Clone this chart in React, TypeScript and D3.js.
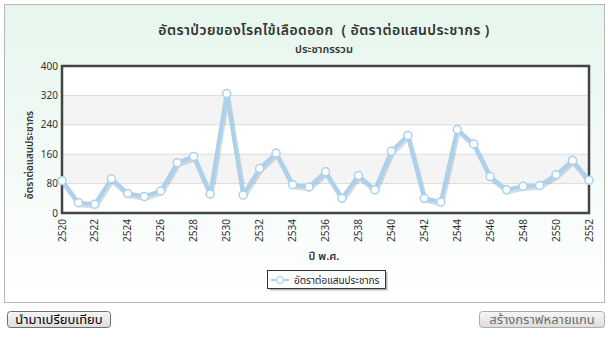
import React from "react";
import * as d3 from "d3";

const years: number[] = [2520,2521,2522,2523,2524,2525,2526,2527,2528,2529,2530,2531,2532,2533,2534,2535,2536,2537,2538,2539,2540,2541,2542,2543,2544,2545,2546,2547,2548,2549,2550,2551,2552];
const rates: number[] = [88,28,24,93,53,45,60,137,154,52,325,49,121,163,77,71,112,40,102,63,168,211,40,30,227,188,99,63,73,75,104,143,89];
const yTicks: number[] = [0,80,160,240,320,400];
const xTickYears: number[] = years.filter((y) => y % 2 === 0);
const titleText = "อัตราป่วยของโรคไข้เลือดออก  ( อัตราต่อแสนประชากร )";
const subtitleText = "ประชากรรวม";
const yAxisTitle = "อัตราต่อแสนประชากร";
const xAxisTitle = "ปี พ.ศ.";
const legendLabel = "อัตราต่อแสนประชากร";
const leftButton = "นำมาเปรียบเทียบ";
const rightButton = "สร้างกราฟหลายแกน";

const FONT = "Tahoma, 'Noto Sans Thai', 'Noto Sans', 'DejaVu Sans', sans-serif";

export default function App() {
  const W = 608, H = 345;
  const pl = 62, pr = 589, pt = 66, pb = 213;
  const x = d3.scaleLinear().domain([2520, 2552]).range([pl, pr]);
  const y = d3.scaleLinear().domain([0, 400]).range([pb, pt]);
  const line = d3.line<number>().x((_, i) => x(years[i])).y((d) => y(d));
  const path = line(rates) || "";
  const blue = "#a9d2ef";
  const bands = [[80, 160], [240, 320]];
  return (
    <svg width={W} height={H} style={{ position: "absolute", left: 0, top: 0, fontFamily: FONT }}>
      <defs>
        <linearGradient id="bg" x1="0" y1="0" x2="0" y2="1">
          <stop offset="0" stopColor="#e6f6ed" />
          <stop offset="1" stopColor="#ffffff" />
        </linearGradient>
        <linearGradient id="btn" x1="0" y1="0" x2="0" y2="1">
          <stop offset="0" stopColor="#f6f6f6" />
          <stop offset="1" stopColor="#dddddd" />
        </linearGradient>
      </defs>
      <rect x={0} y={0} width={W} height={H} fill="#fff" />
      <rect x={4.5} y={4.5} width={600} height={298} fill="url(#bg)" stroke="#b8b8b8" />
      <text x={324} y={35} textAnchor="middle" fontSize={14} letterSpacing={0.4} fontWeight={600} fill="#333" style={{ whiteSpace: "pre" }}>{titleText}</text>
      <text x={324} y={53} textAnchor="middle" fontSize={11} fontWeight={600} fill="#333">{subtitleText}</text>
      {/* plot area */}
      <rect x={pl} y={pt} width={pr - pl} height={pb - pt} fill="#fff" />
      {bands.map(([a, b], i) => (
        <rect key={i} x={pl} y={y(b)} width={pr - pl} height={y(a) - y(b)} fill="#f4f4f4" />
      ))}
      {yTicks.slice(1, -1).map((t) => (
        <line key={t} x1={pl} x2={pr} y1={y(t)} y2={y(t)} stroke="#dcdcdc" />
      ))}
      <rect x={pl} y={pt} width={pr - pl} height={pb - pt} fill="none" stroke="#444" strokeWidth={2.5} />
      {yTicks.map((t) => (
        <text key={t} x={58} y={y(t) + 3.5} textAnchor="end" fontSize={10} fill="#333">{t}</text>
      ))}
      {xTickYears.map((yr) => (
        <text key={yr} transform={`translate(${x(yr) + 3.5},${219}) rotate(-90)`} textAnchor="end" fontSize={10} fill="#333">{yr}</text>
      ))}
      <text transform={`translate(${33},${155}) rotate(-90)`} textAnchor="middle" fontSize={10} fontWeight={600} fill="#333">{yAxisTitle}</text>
      <text x={324} y={260} textAnchor="middle" fontSize={11} fontWeight={600} fill="#333">{xAxisTitle}</text>
      {/* series */}
      <path d={path} fill="none" stroke="#000" strokeOpacity={0.14} strokeWidth={5} transform="translate(1,2)" strokeLinejoin="round" />
      <path d={path} fill="none" stroke={blue} strokeWidth={4} strokeLinejoin="round" />
      {rates.map((v, i) => (
        <circle key={i} cx={x(years[i])} cy={y(v)} r={4} fill="#fff" stroke={blue} strokeWidth={1.5} />
      ))}
      {/* legend */}
      <rect x={269.5} y={272.5} width={118} height={18} fill="#888" opacity={0.6} />
      <rect x={267.5} y={270.5} width={118} height={18} fill="#fff" stroke="#333" />
      <line x1={271} x2={289} y1={280} y2={280} stroke={blue} strokeWidth={2} />
      <circle cx={280} cy={280} r={3.5} fill="#fff" stroke={blue} strokeWidth={1.2} />
      <text x={294} y={283.5} fontSize={10} fill="#222">{legendLabel}</text>
      {/* buttons */}
      <rect x={7.5} y={311.5} width={103} height={16} rx={3} fill="url(#btn)" stroke="#707070" />
      <text x={59} y={324} textAnchor="middle" fontSize={13} fill="#000">{leftButton}</text>
      <rect x={479.5} y={311.5} width={125} height={16} rx={3} fill="url(#btn)" stroke="#adadad" />
      <text x={542} y={324} textAnchor="middle" fontSize={13} fill="#6d6d6d">{rightButton}</text>
    </svg>
  );
}
